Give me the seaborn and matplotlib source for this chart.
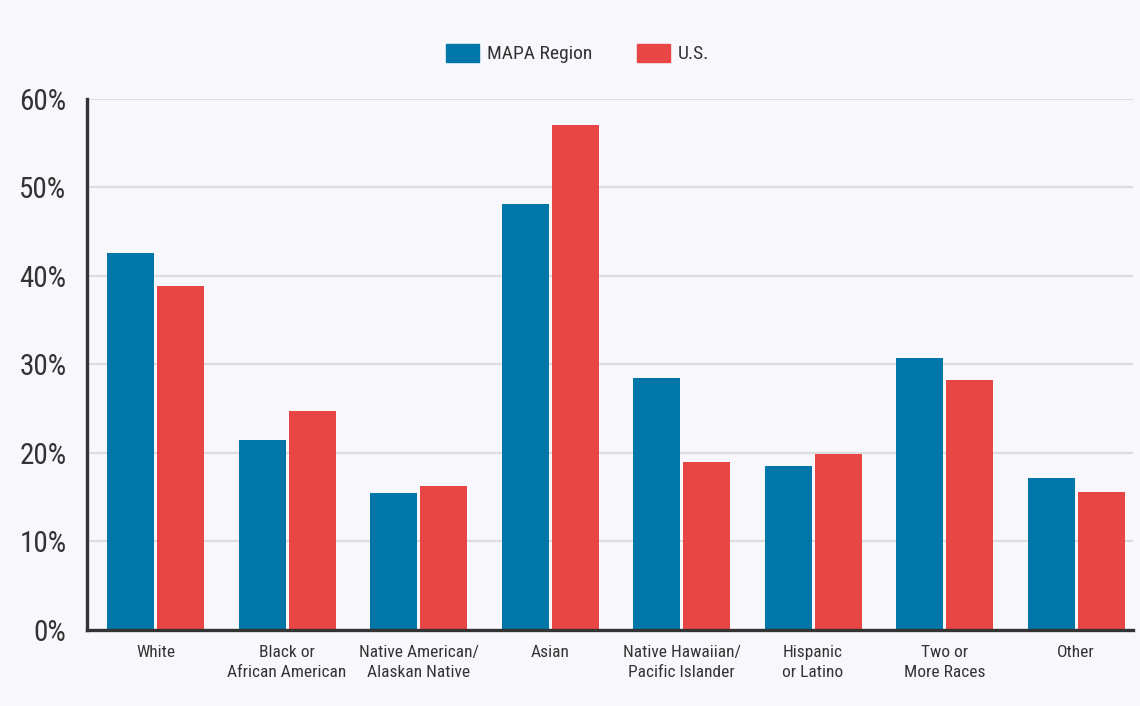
import matplotlib
matplotlib.use("Agg")
import matplotlib.pyplot as plt
from matplotlib import font_manager
from matplotlib.ticker import FuncFormatter
import seaborn as sns
import pandas as pd

categories = [
    "White",
    "Black or\nAfrican American",
    "Native American/\nAlaskan Native",
    "Asian",
    "Native Hawaiian/\nPacific Islander",
    "Hispanic\nor Latino",
    "Two or\nMore Races",
    "Other",
]
series_names = ["MAPA Region", "U.S."]
mapa_values = [42.6, 21.4, 15.4, 48.1, 28.5, 18.5, 30.7, 17.2]
us_values = [38.9, 24.7, 16.2, 57.1, 19.0, 19.9, 28.2, 15.6]
y_ticks = [0, 10, 20, 30, 40, 50, 60]

colors = {"MAPA Region": "#0077A8", "U.S.": "#E84545"}
bg = "#F8F8FC"

df = pd.DataFrame({
    "category": categories * 2,
    "series": [series_names[0]] * len(categories) + [series_names[1]] * len(categories),
    "value": mapa_values + us_values,
})

sns.set_theme(style="white")
available = {f.name for f in font_manager.fontManager.ttflist}
family = [f for f in ["Roboto Condensed", "Liberation Sans Narrow", "Roboto", "DejaVu Sans"] if f in available]
plt.rcParams["font.family"] = family

fig = plt.figure(figsize=(11.4, 7.06), dpi=100, facecolor=bg)
ax = fig.add_axes([0.0765, 0.108, 0.917, 0.752])
ax.set_facecolor(bg)

sns.barplot(data=df, x="category", y="value", hue="series", order=categories,
            hue_order=series_names, palette=colors, width=0.76, gap=0.06,
            saturation=1, linewidth=0, ax=ax)

ax.set_ylim(0, 60)
ax.set_xlim(-0.52, 7.43)
ax.set_yticks(y_ticks)
ax.yaxis.set_major_formatter(FuncFormatter(lambda v, p: f"{v:.0f}%"))
ax.yaxis.grid(True, color="#DDDDDD", linewidth=1.6)
ax.set_axisbelow(True)
ax.set_xlabel("")
ax.set_ylabel("")
ax.tick_params(axis="y", length=0, pad=15, labelsize=21, labelcolor="#333333")
ax.tick_params(axis="x", length=0, pad=11, labelsize=12.5, labelcolor="#333333")
for lbl in ax.get_xticklabels():
    lbl.set_linespacing(1.45)

for side in ["top", "right"]:
    ax.spines[side].set_visible(False)
for side in ["left", "bottom"]:
    ax.spines[side].set_color("#333333")
    ax.spines[side].set_linewidth(2.4)

ax.legend_.remove()
handles = [plt.Rectangle((0, 0), 1, 1, color=colors[s]) for s in series_names]
fig.legend(handles, series_names, loc="center", bbox_to_anchor=(0.507, 0.924), ncol=2,
           frameon=False, fontsize=14, handlelength=1.7, handleheight=1.05,
           columnspacing=2.3, handletextpad=0.4, labelcolor="#333333")

fig.savefig("out.png", dpi=100, facecolor=bg)
